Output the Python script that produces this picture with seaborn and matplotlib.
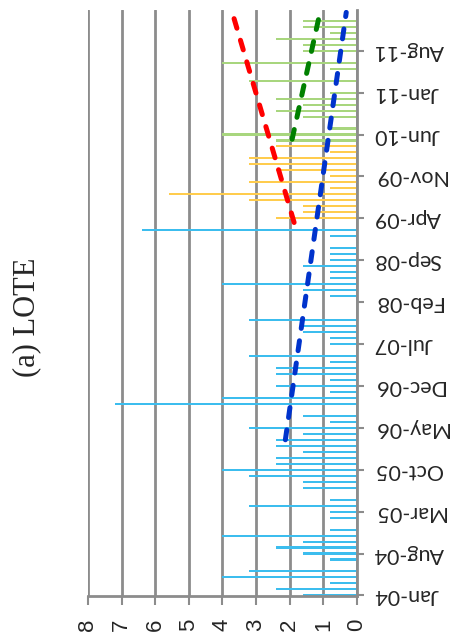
import seaborn as sns
import pandas as pd
import matplotlib.pyplot as plt

# monthly values, Jan-04 = month 0
blue_vals = [1.6, 2.4, 0.8, 4.0, 3.2, 0, 0.8, 1.6, 2.4, 1.6,
             4.0, 0.8, 0, 0.8, 0.8, 3.2, 0.8, 0, 1.6, 1.6,
             3.2, 4.0, 2.4, 2.4, 1.6, 2.4, 2.4, 1.6, 3.2, 0.8,
             1.6, 0, 7.2, 4.0, 0.8, 2.4, 0.8, 2.4, 2.4, 0.8,
             3.2, 0, 0.8, 0.8, 1.6, 1.6, 3.2, 0, 0, 0,
             0.8, 1.6, 4.0, 0.8, 0.8, 1.6, 0.8, 0.8, 0.8, 0,
             0.8, 6.4, 0]
yellow_vals = [2.4, 1.6, 1.6, 3.2, 5.6, 0.8, 3.2, 0.8, 2.4, 3.2, 3.2, 0.8, 2.4]
green_vals = [2.4, 4.0, 0.8, 0, 1.6, 2.4, 1.6, 2.4, 0.8, 0, 3.2,
              0, 0.8, 4.0, 0, 1.6, 1.6, 2.4, 0.8, 1.6, 1.6]

date_labels = ['Jan-04', 'Aug-04', 'Mar-05', 'Oct-05', 'May-06', 'Dec-06', 'Jul-07',
               'Feb-08', 'Sep-08', 'Apr-09', 'Nov-09', 'Jun-10', 'Jan-11', 'Aug-11']

# trend lines (month index, value)
trend_blue_x, trend_blue_y = [26, 97.4], [2.13, 0.32]
trend_red_x, trend_red_y = [62.3, 97.4], [1.87, 3.71]
trend_green_x, trend_green_y = [76.2, 97.4], [1.93, 1.10]

vals = blue_vals + yellow_vals + green_vals
period = ['a'] * len(blue_vals) + ['b'] * len(yellow_vals) + ['c'] * len(green_vals)
df = pd.DataFrame({'month': range(len(vals)), 'value': vals, 'period': period})

sns.set_style('white')
gray = '#8c8c8c'

fig = plt.figure(figsize=(4.58, 6.41), dpi=100)
ax = fig.add_axes([0.192, 0.0702, 0.5875, 0.9142])

sns.barplot(data=df, x='value', y='month', hue='period', orient='y', native_scale=True,
            dodge=False, width=0.34, saturation=1, errorbar=None, legend=False,
            linewidth=0, edgecolor='none',
            palette={'a': '#3cbdee', 'b': '#ffcc4d', 'c': '#a8d67e'}, ax=ax)

dash = dict(lw=3.6, linestyle=(0, (2, 2.5)), dash_capstyle='round', zorder=5)
ax.plot(trend_blue_y, trend_blue_x, color='#0033cc', **dash)
ax.plot(trend_red_y, trend_red_x, color='#ff0000', **dash)
ax.plot(trend_green_y, trend_green_x, color='#008000', **dash)

ax.set_xlim(8, 0)
ax.set_ylim(-0.1, 97.8)
ax.set_xlabel('')
ax.set_ylabel('')

ax.set_axisbelow(True)
ax.grid(axis='x', color=gray, lw=2)
ax.grid(axis='y', visible=False)
for s in ['left', 'top']:
    ax.spines[s].set_visible(False)
for s in ['bottom', 'right']:
    ax.spines[s].set_color(gray)
    ax.spines[s].set_linewidth(2)

ax.set_xticks(range(0, 9))
ax.set_xticklabels([str(v) for v in range(0, 9)], rotation=90, fontsize=16,
                   family='Liberation Sans')
ax.tick_params(axis='x', bottom=True, direction='out', length=6.5, width=1.5,
               color=gray, pad=10)

ax.yaxis.tick_right()
ax.set_yticks(range(0, 7 * len(date_labels), 7))
ax.set_yticklabels(date_labels, rotation=180, fontsize=15.5, family='Lato', va='center')
ax.tick_params(axis='y', right=True, left=False, direction='out', length=5, width=1.5,
               color=gray, pad=7)

fig.text(0.059, 0.505, '(a) LOTE', rotation=90, fontsize=22, family='Liberation Serif',
         ha='center', va='center')

fig.savefig('out.png', dpi=100)
